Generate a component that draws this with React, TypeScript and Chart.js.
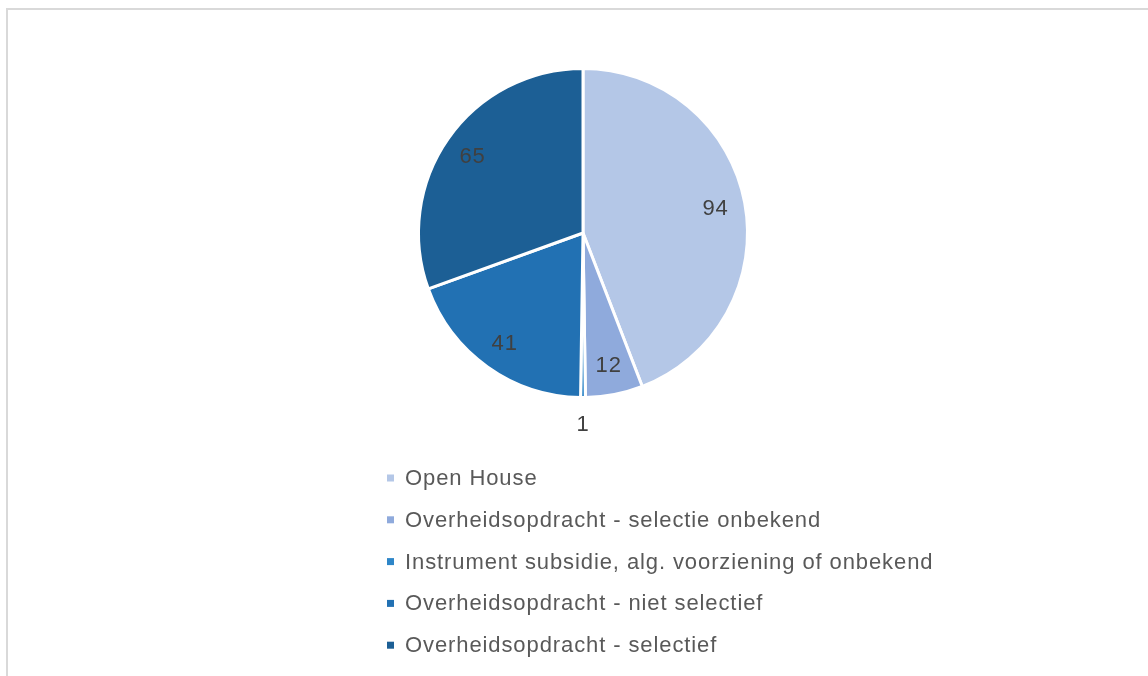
import React, { useEffect, useRef } from "react";
import { Chart, registerables } from "chart.js";

Chart.register(...registerables);

const categories = [
  "Open House",
  "Overheidsopdracht - selectie onbekend",
  "Instrument subsidie, alg. voorziening of onbekend",
  "Overheidsopdracht - niet selectief",
  "Overheidsopdracht - selectief",
];
const values = [94, 12, 1, 41, 65];
const colors = ["#b4c7e7", "#8faadc", "#2e86c8", "#2271b3", "#1c5f95"];

const FONT = "22px 'Liberation Sans', Arial, sans-serif";
const SPACING = "0.9px";

const labelPlugin = {
  id: "labels",
  afterDatasetsDraw(chart: any) {
    const ctx = chart.ctx;
    const meta = chart.getDatasetMeta(0);
    const total = values.reduce((a, b) => a + b, 0);
    ctx.save();
    ctx.font = FONT;
    (ctx as any).letterSpacing = SPACING;
    ctx.fillStyle = "#404040";
    ctx.textAlign = "center";
    ctx.textBaseline = "middle";
    meta.data.forEach((arc: any, i: number) => {
      const { x, y, startAngle, endAngle, outerRadius } = arc.getProps(
        ["x", "y", "startAngle", "endAngle", "outerRadius"],
        true
      );
      const mid = (startAngle + endAngle) / 2;
      const small = values[i] / total < 0.03;
      const r = small ? outerRadius + 26 : outerRadius * 0.82;
      ctx.fillText(String(values[i]), x + Math.cos(mid) * r, y + Math.sin(mid) * r + 1);
    });
    ctx.restore();
  },
  afterDraw(chart: any) {
    const ctx = chart.ctx;
    ctx.save();
    ctx.font = FONT;
    (ctx as any).letterSpacing = SPACING;
    ctx.textAlign = "left";
    ctx.textBaseline = "middle";
    const x0 = 387;
    const y0 = 478;
    const step = 41.8;
    categories.forEach((c, i) => {
      const y = y0 + i * step;
      ctx.fillStyle = colors[i];
      ctx.fillRect(x0, y - 3.5, 7, 7);
      ctx.fillStyle = "#595959";
      ctx.fillText(c, 405, y + 1);
    });
    ctx.restore();
  },
};

export default function App() {
  const ref = useRef<HTMLCanvasElement | null>(null);
  useEffect(() => {
    if (!ref.current) return;
    const chart = new Chart(ref.current, {
      type: "pie",
      data: {
        labels: categories,
        datasets: [
          {
            data: values,
            backgroundColor: colors,
            borderColor: "#ffffff",
            borderWidth: 3,
          },
        ],
      },
      options: {
        animation: false,
        responsive: false,
        layout: { padding: { left: 417, right: 399, top: 66, bottom: 276 } },
        plugins: {
          legend: { display: false },
          tooltip: { enabled: false },
        },
      },
      plugins: [labelPlugin],
    });
    return () => chart.destroy();
  }, []);
  return (
    <div
      style={{
        position: "fixed",
        left: 0,
        top: 0,
        width: 1148,
        height: 676,
        background: "#ffffff",
        overflow: "hidden",
      }}
    >
      <div
        style={{
          position: "absolute",
          left: 6,
          top: 8,
          width: 1200,
          height: 720,
          border: "2px solid #d9d9d9",
          boxSizing: "border-box",
        }}
      />
      <canvas
        ref={ref}
        width={1148}
        height={676}
        style={{ position: "absolute", left: 0, top: 0 }}
      />
    </div>
  );
}
